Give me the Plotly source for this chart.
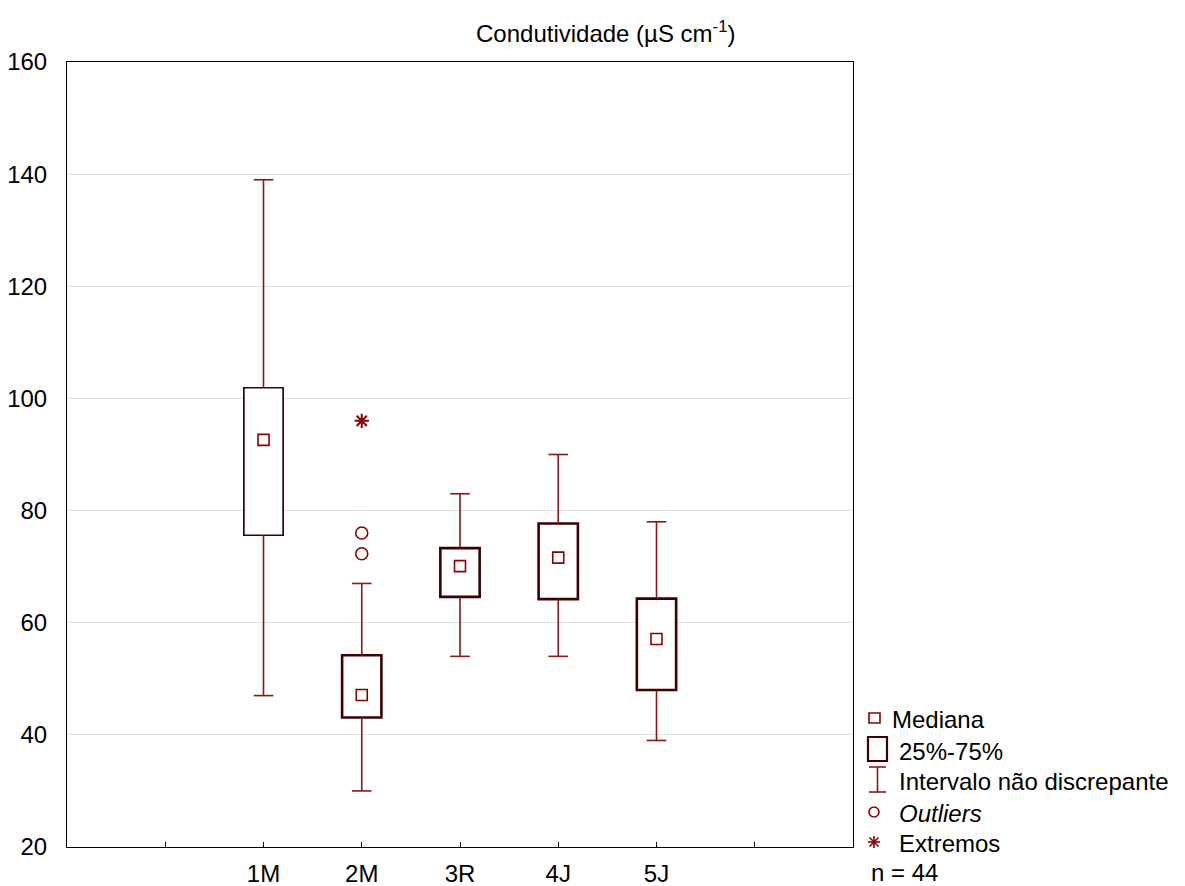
import plotly.graph_objects as go

# ---- data ----
categories = ["1M", "2M", "3R", "4J", "5J"]
whisker_low = [47, 30, 54, 54, 39]
q1 = [75.6, 43.1, 64.6, 64.2, 48.0]
median = [92.6, 47.1, 70.1, 71.6, 57.1]
q3 = [101.9, 54.2, 73.3, 77.7, 64.3]
whisker_high = [139, 67, 83, 90, 78]
outlier_cat = ["2M", "2M"]
outlier_val = [76, 72.3]
extreme_cat = ["2M"]
extreme_val = [96]
tick_labels = ["1M", "2M", "3R", "4J", "5J"]
y_ticks = [20, 40, 60, 80, 100, 120, 140, 160]

WHISK = "#8c1515"
BOXC = "#3c0000"
MED = "#8b0000"
FONT = "Liberation Sans, Arial, sans-serif"
FS = 24

pos = {c: i for i, c in enumerate(categories)}
xs = [pos[c] for c in categories]
box_w = 0.40
cap_w = 0.10

fig = go.Figure()

# whiskers (lines with caps) built from the data arrays
wx, wy = [], []
for x, lo, a, b, hi in zip(xs, whisker_low, q1, q3, whisker_high):
    wx += [x, x, None, x, x, None, x - cap_w, x + cap_w, None, x - cap_w, x + cap_w, None]
    wy += [lo, a, None, b, hi, None, lo, lo, None, hi, hi, None]
fig.add_trace(go.Scatter(x=wx, y=wy, mode="lines", line=dict(color=WHISK, width=1.6),
                         showlegend=False, hoverinfo="skip"))

# boxes
fig.add_trace(go.Bar(x=xs, y=[b - a for a, b in zip(q1, q3)], base=q1, width=box_w,
                     marker=dict(color="white",
                                 line=dict(color=BOXC, width=[1.7, 2.6, 2.6, 2.6, 2.6])),
                     showlegend=False, hoverinfo="skip"))

# medians
fig.add_trace(go.Scatter(x=xs, y=median, mode="markers",
                         marker=dict(symbol="square-open", size=11, color=MED, line=dict(width=1.6)),
                         showlegend=False))
# outliers
fig.add_trace(go.Scatter(x=[pos[c] for c in outlier_cat], y=outlier_val, mode="markers",
                         marker=dict(symbol="circle-open", size=12, color=MED, line=dict(width=1.6)),
                         showlegend=False))
# extremes
fig.add_trace(go.Scatter(x=[pos[c] for c in extreme_cat], y=extreme_val, mode="markers",
                         marker=dict(symbol="asterisk-open", size=12, color=MED, line=dict(width=2)),
                         showlegend=False))

# ---- layout ----
L, R, T, B = 67, 853, 62, 847
W, H = 1185, 886


def px(x):
    return (x - L) / (R - L)


def py(y):
    return (B - y) / (B - T)


fig.update_layout(
    width=W, height=H,
    margin=dict(l=L, r=W - R, t=T, b=H - B),
    paper_bgcolor="white", plot_bgcolor="white",
    font=dict(family=FONT, size=FS, color="black"),
    barmode="overlay",
    xaxis=dict(range=[-2, 6], tickvals=xs, ticktext=tick_labels, automargin=False,
               ticks="inside", ticklen=5, tickcolor="black", tickwidth=1,
               minor=dict(tick0=0, dtick=1, ticks="inside", ticklen=5, tickcolor="black",
                          showgrid=False),
               showgrid=False, zeroline=False, showline=True, linecolor="black",
               linewidth=1, mirror=True, ticklabelstandoff=5),
    yaxis=dict(range=[20, 160], tickvals=y_ticks, ticks="", showgrid=True, automargin=False,
               gridcolor="#e0e0e0", gridwidth=1, zeroline=False, showline=True,
               linecolor="black", linewidth=1, mirror=True, ticklabelstandoff=14),
)

ann = []
ann.append(dict(text="Condutividade (µS cm<sup>-1</sup>)", x=px(606), y=py(32), xref="paper",
                yref="paper", showarrow=False, xanchor="center", yanchor="middle",
                font=dict(size=FS)))

leg = [("Mediana", 890, 719), ("25%-75%", 897, 751), ("Intervalo não discrepante", 897, 781),
       ("<i>Outliers</i>", 897, 813), ("Extremos", 897, 843), ("n = 44", 869, 872)]
for t, x, y in leg:
    ann.append(dict(text=t, x=px(x), y=py(y), xref="paper", yref="paper", showarrow=False,
                    xanchor="left", yanchor="middle", font=dict(size=FS)))
fig.update_layout(annotations=ann)

shapes = []
# Mediana icon
shapes.append(dict(type="rect", xref="paper", yref="paper", x0=px(869), x1=px(880),
                   y0=py(723), y1=py(713), line=dict(color=MED, width=1.6)))
# Box icon
shapes.append(dict(type="rect", xref="paper", yref="paper", x0=px(868), x1=px(887),
                   y0=py(761), y1=py(737), line=dict(color=BOXC, width=2.2)))
# Whisker icon
for (x0, y0, x1, y1) in [(877.5, 767, 877.5, 792), (869, 767, 886, 767), (869, 792, 886, 792)]:
    shapes.append(dict(type="line", xref="paper", yref="paper", x0=px(x0), x1=px(x1),
                       y0=py(y0), y1=py(y1), line=dict(color=WHISK, width=1.6)))
# Outlier icon
shapes.append(dict(type="circle", xref="paper", yref="paper", x0=px(869), x1=px(879),
                   y0=py(817), y1=py(807), line=dict(color=MED, width=1.6)))
# Extreme icon (asterisk)
cx, cy = 874, 842
for (dx0, dy0, dx1, dy1) in [(0, -6, 0, 6), (-6, 0, 6, 0), (-4.5, -4.5, 4.5, 4.5), (-4.5, 4.5, 4.5, -4.5)]:
    shapes.append(dict(type="line", xref="paper", yref="paper", x0=px(cx + dx0), x1=px(cx + dx1),
                       y0=py(cy + dy0), y1=py(cy + dy1), line=dict(color=MED, width=1.6)))
fig.update_layout(shapes=shapes)

fig.write_html("out.html")
